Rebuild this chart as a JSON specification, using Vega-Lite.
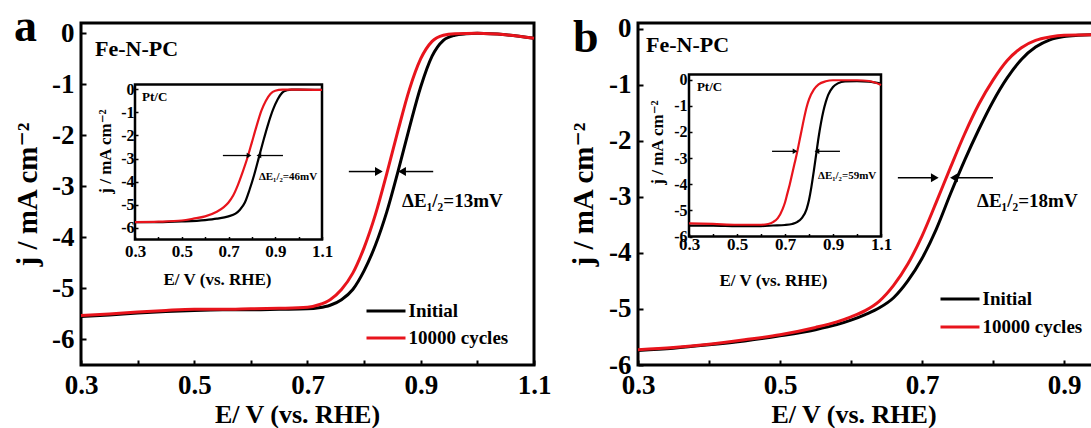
{
  "$schema": "https://vega.github.io/schema/vega-lite/v6.json",
  "padding": {"left": 11, "top": 2, "right": 0, "bottom": 0},
  "background": "white",
  "datasets": {
    "mainA": [
      {"E":0.30,"j":-5.55,"s":"Initial"},{"E":0.35,"j":-5.52,"s":"Initial"},{"E":0.40,"j":-5.48,"s":"Initial"},{"E":0.45,"j":-5.45,"s":"Initial"},{"E":0.50,"j":-5.43,"s":"Initial"},{"E":0.55,"j":-5.42,"s":"Initial"},{"E":0.60,"j":-5.42,"s":"Initial"},{"E":0.65,"j":-5.41,"s":"Initial"},{"E":0.70,"j":-5.40,"s":"Initial"},{"E":0.72,"j":-5.38,"s":"Initial"},{"E":0.74,"j":-5.33,"s":"Initial"},{"E":0.76,"j":-5.22,"s":"Initial"},{"E":0.78,"j":-5.02,"s":"Initial"},{"E":0.80,"j":-4.65,"s":"Initial"},{"E":0.82,"j":-4.15,"s":"Initial"},{"E":0.84,"j":-3.5,"s":"Initial"},{"E":0.86,"j":-2.7,"s":"Initial"},{"E":0.88,"j":-1.85,"s":"Initial"},{"E":0.90,"j":-1.05,"s":"Initial"},{"E":0.92,"j":-0.45,"s":"Initial"},{"E":0.94,"j":-0.14,"s":"Initial"},{"E":0.96,"j":-0.04,"s":"Initial"},{"E":0.98,"j":-0.01,"s":"Initial"},{"E":1.00,"j":0.0,"s":"Initial"},{"E":1.05,"j":-0.03,"s":"Initial"},{"E":1.10,"j":-0.1,"s":"Initial"},
      {"E":0.30,"j":-5.53,"s":"10000 cycles"},{"E":0.35,"j":-5.5,"s":"10000 cycles"},{"E":0.40,"j":-5.46,"s":"10000 cycles"},{"E":0.45,"j":-5.43,"s":"10000 cycles"},{"E":0.50,"j":-5.41,"s":"10000 cycles"},{"E":0.55,"j":-5.41,"s":"10000 cycles"},{"E":0.60,"j":-5.4,"s":"10000 cycles"},{"E":0.65,"j":-5.39,"s":"10000 cycles"},{"E":0.70,"j":-5.37,"s":"10000 cycles"},{"E":0.72,"j":-5.32,"s":"10000 cycles"},{"E":0.74,"j":-5.22,"s":"10000 cycles"},{"E":0.76,"j":-5.02,"s":"10000 cycles"},{"E":0.78,"j":-4.7,"s":"10000 cycles"},{"E":0.80,"j":-4.2,"s":"10000 cycles"},{"E":0.82,"j":-3.55,"s":"10000 cycles"},{"E":0.84,"j":-2.75,"s":"10000 cycles"},{"E":0.86,"j":-1.9,"s":"10000 cycles"},{"E":0.88,"j":-1.1,"s":"10000 cycles"},{"E":0.90,"j":-0.5,"s":"10000 cycles"},{"E":0.92,"j":-0.16,"s":"10000 cycles"},{"E":0.94,"j":-0.04,"s":"10000 cycles"},{"E":0.96,"j":-0.01,"s":"10000 cycles"},{"E":1.00,"j":0.0,"s":"10000 cycles"},{"E":1.05,"j":-0.03,"s":"10000 cycles"},{"E":1.10,"j":-0.1,"s":"10000 cycles"}
    ],
    "insetA": [
      {"E":0.30,"j":-5.75,"s":"Initial"},{"E":0.40,"j":-5.75,"s":"Initial"},{"E":0.50,"j":-5.72,"s":"Initial"},{"E":0.60,"j":-5.66,"s":"Initial"},{"E":0.65,"j":-5.6,"s":"Initial"},{"E":0.70,"j":-5.5,"s":"Initial"},{"E":0.73,"j":-5.38,"s":"Initial"},{"E":0.75,"j":-5.2,"s":"Initial"},{"E":0.77,"j":-4.9,"s":"Initial"},{"E":0.79,"j":-4.35,"s":"Initial"},{"E":0.81,"j":-3.7,"s":"Initial"},{"E":0.83,"j":-2.95,"s":"Initial"},{"E":0.85,"j":-2.2,"s":"Initial"},{"E":0.87,"j":-1.5,"s":"Initial"},{"E":0.89,"j":-0.9,"s":"Initial"},{"E":0.91,"j":-0.45,"s":"Initial"},{"E":0.93,"j":-0.15,"s":"Initial"},{"E":0.95,"j":-0.05,"s":"Initial"},{"E":0.97,"j":-0.02,"s":"Initial"},{"E":1.00,"j":-0.02,"s":"Initial"},{"E":1.10,"j":-0.03,"s":"Initial"},
      {"E":0.30,"j":-5.75,"s":"10000 cycles"},{"E":0.40,"j":-5.73,"s":"10000 cycles"},{"E":0.50,"j":-5.68,"s":"10000 cycles"},{"E":0.55,"j":-5.6,"s":"10000 cycles"},{"E":0.60,"j":-5.5,"s":"10000 cycles"},{"E":0.65,"j":-5.3,"s":"10000 cycles"},{"E":0.68,"j":-5.1,"s":"10000 cycles"},{"E":0.70,"j":-4.9,"s":"10000 cycles"},{"E":0.72,"j":-4.6,"s":"10000 cycles"},{"E":0.74,"j":-4.15,"s":"10000 cycles"},{"E":0.76,"j":-3.6,"s":"10000 cycles"},{"E":0.78,"j":-3.0,"s":"10000 cycles"},{"E":0.80,"j":-2.3,"s":"10000 cycles"},{"E":0.82,"j":-1.6,"s":"10000 cycles"},{"E":0.84,"j":-0.95,"s":"10000 cycles"},{"E":0.86,"j":-0.5,"s":"10000 cycles"},{"E":0.88,"j":-0.2,"s":"10000 cycles"},{"E":0.90,"j":-0.07,"s":"10000 cycles"},{"E":0.93,"j":-0.02,"s":"10000 cycles"},{"E":1.00,"j":-0.02,"s":"10000 cycles"},{"E":1.10,"j":-0.03,"s":"10000 cycles"}
    ],
    "mainB": [
      {"E":0.30,"j":-5.74,"s":"Initial"},{"E":0.35,"j":-5.70,"s":"Initial"},{"E":0.40,"j":-5.64,"s":"Initial"},{"E":0.45,"j":-5.57,"s":"Initial"},{"E":0.50,"j":-5.48,"s":"Initial"},{"E":0.55,"j":-5.37,"s":"Initial"},{"E":0.58,"j":-5.28,"s":"Initial"},{"E":0.60,"j":-5.2,"s":"Initial"},{"E":0.62,"j":-5.1,"s":"Initial"},{"E":0.64,"j":-4.98,"s":"Initial"},{"E":0.66,"j":-4.8,"s":"Initial"},{"E":0.68,"j":-4.5,"s":"Initial"},{"E":0.70,"j":-4.1,"s":"Initial"},{"E":0.72,"j":-3.58,"s":"Initial"},{"E":0.74,"j":-2.95,"s":"Initial"},{"E":0.76,"j":-2.35,"s":"Initial"},{"E":0.78,"j":-1.8,"s":"Initial"},{"E":0.80,"j":-1.3,"s":"Initial"},{"E":0.82,"j":-0.88,"s":"Initial"},{"E":0.84,"j":-0.55,"s":"Initial"},{"E":0.86,"j":-0.33,"s":"Initial"},{"E":0.88,"j":-0.2,"s":"Initial"},{"E":0.90,"j":-0.14,"s":"Initial"},{"E":0.92,"j":-0.12,"s":"Initial"},{"E":0.95,"j":-0.11,"s":"Initial"},{"E":1.00,"j":-0.11,"s":"Initial"},
      {"E":0.30,"j":-5.73,"s":"10000 cycles"},{"E":0.35,"j":-5.69,"s":"10000 cycles"},{"E":0.40,"j":-5.63,"s":"10000 cycles"},{"E":0.45,"j":-5.55,"s":"10000 cycles"},{"E":0.50,"j":-5.46,"s":"10000 cycles"},{"E":0.55,"j":-5.33,"s":"10000 cycles"},{"E":0.58,"j":-5.23,"s":"10000 cycles"},{"E":0.60,"j":-5.14,"s":"10000 cycles"},{"E":0.62,"j":-5.03,"s":"10000 cycles"},{"E":0.64,"j":-4.86,"s":"10000 cycles"},{"E":0.66,"j":-4.58,"s":"10000 cycles"},{"E":0.68,"j":-4.2,"s":"10000 cycles"},{"E":0.70,"j":-3.7,"s":"10000 cycles"},{"E":0.72,"j":-3.1,"s":"10000 cycles"},{"E":0.74,"j":-2.48,"s":"10000 cycles"},{"E":0.76,"j":-1.88,"s":"10000 cycles"},{"E":0.78,"j":-1.35,"s":"10000 cycles"},{"E":0.80,"j":-0.92,"s":"10000 cycles"},{"E":0.82,"j":-0.57,"s":"10000 cycles"},{"E":0.84,"j":-0.34,"s":"10000 cycles"},{"E":0.86,"j":-0.21,"s":"10000 cycles"},{"E":0.88,"j":-0.15,"s":"10000 cycles"},{"E":0.90,"j":-0.12,"s":"10000 cycles"},{"E":0.95,"j":-0.11,"s":"10000 cycles"},{"E":1.00,"j":-0.11,"s":"10000 cycles"}
    ],
    "insetB": [
      {"E":0.30,"j":-5.58,"s":"Initial"},{"E":0.40,"j":-5.58,"s":"Initial"},{"E":0.50,"j":-5.6,"s":"Initial"},{"E":0.60,"j":-5.6,"s":"Initial"},{"E":0.65,"j":-5.58,"s":"Initial"},{"E":0.70,"j":-5.56,"s":"Initial"},{"E":0.73,"j":-5.52,"s":"Initial"},{"E":0.75,"j":-5.45,"s":"Initial"},{"E":0.77,"j":-5.3,"s":"Initial"},{"E":0.79,"j":-4.95,"s":"Initial"},{"E":0.80,"j":-4.6,"s":"Initial"},{"E":0.81,"j":-4.1,"s":"Initial"},{"E":0.82,"j":-3.5,"s":"Initial"},{"E":0.83,"j":-2.85,"s":"Initial"},{"E":0.84,"j":-2.2,"s":"Initial"},{"E":0.85,"j":-1.65,"s":"Initial"},{"E":0.86,"j":-1.2,"s":"Initial"},{"E":0.87,"j":-0.85,"s":"Initial"},{"E":0.88,"j":-0.58,"s":"Initial"},{"E":0.90,"j":-0.28,"s":"Initial"},{"E":0.92,"j":-0.14,"s":"Initial"},{"E":0.95,"j":-0.06,"s":"Initial"},{"E":1.00,"j":-0.05,"s":"Initial"},{"E":1.05,"j":-0.07,"s":"Initial"},{"E":1.10,"j":-0.15,"s":"Initial"},
      {"E":0.30,"j":-5.5,"s":"10000 cycles"},{"E":0.40,"j":-5.52,"s":"10000 cycles"},{"E":0.50,"j":-5.55,"s":"10000 cycles"},{"E":0.60,"j":-5.55,"s":"10000 cycles"},{"E":0.63,"j":-5.52,"s":"10000 cycles"},{"E":0.65,"j":-5.45,"s":"10000 cycles"},{"E":0.67,"j":-5.3,"s":"10000 cycles"},{"E":0.69,"j":-4.95,"s":"10000 cycles"},{"E":0.70,"j":-4.7,"s":"10000 cycles"},{"E":0.71,"j":-4.35,"s":"10000 cycles"},{"E":0.72,"j":-4.0,"s":"10000 cycles"},{"E":0.73,"j":-3.6,"s":"10000 cycles"},{"E":0.74,"j":-3.2,"s":"10000 cycles"},{"E":0.75,"j":-2.8,"s":"10000 cycles"},{"E":0.76,"j":-2.35,"s":"10000 cycles"},{"E":0.77,"j":-1.9,"s":"10000 cycles"},{"E":0.78,"j":-1.45,"s":"10000 cycles"},{"E":0.79,"j":-1.05,"s":"10000 cycles"},{"E":0.80,"j":-0.75,"s":"10000 cycles"},{"E":0.82,"j":-0.38,"s":"10000 cycles"},{"E":0.84,"j":-0.18,"s":"10000 cycles"},{"E":0.87,"j":-0.06,"s":"10000 cycles"},{"E":0.90,"j":-0.02,"s":"10000 cycles"},{"E":1.00,"j":-0.02,"s":"10000 cycles"},{"E":1.05,"j":-0.05,"s":"10000 cycles"},{"E":1.10,"j":-0.2,"s":"10000 cycles"}
    ],
    "arrA": [{"x1":0.773,"x2":0.826,"y":-2.71,"d":"r"},{"x1":0.922,"x2":0.867,"y":-2.71,"d":"l"}],
    "arrAi": [{"x1":0.676,"x2":0.788,"y":-2.87,"d":"r"},{"x1":0.933,"x2":0.830,"y":-2.87,"d":"l"}],
    "arrB": [{"x1":0.666,"x2":0.718,"y":-2.66,"d":"r"},{"x1":0.800,"x2":0.745,"y":-2.66,"d":"l"}],
    "arrBi": [{"x1":0.646,"x2":0.742,"y":-2.74,"d":"r"},{"x1":0.929,"x2":0.833,"y":-2.74,"d":"l"}]
  },
  "hconcat": [
    {
      "width": 453, "height": 342,
      "layer": [
        {"layer": [
          {"data": {"name": "mainA"},
           "mark": {"type": "line", "strokeWidth": 3, "interpolate": "monotone"},
           "encoding": {
             "x": {"field": "E", "type": "quantitative", "scale": {"domain": [0.3, 1.1], "nice": false, "zero": false},
                   "axis": {"values": [0.3,0.4,0.5,0.6,0.7,0.8,0.9,1.0,1.1], "labelExpr": "indexof([0.3,0.5,0.7,0.9,1.1], datum.value) >= 0 ? format(datum.value, '.1f') : ''",
                            "domain": false, "tickSize": -5, "tickWidth": 2, "labelPadding": 12, "labelFontSize": 27,
                            "title": "E/ V (vs. RHE)", "titleFontSize": 26, "titleX": 216, "titleY": 49, "titleBaseline": "middle", "titleAlign": "center"}},
             "y": {"field": "j", "type": "quantitative", "scale": {"domain": [-6.5, 0.2], "nice": false, "zero": false},
                   "axis": {"values": [-6,-5.5,-5,-4.5,-4,-3.5,-3,-2.5,-2,-1.5,-1,-0.5,0], "labelExpr": "datum.value % 1 == 0 ? '' + datum.value : ''",
                            "domain": false, "tickSize": -5, "tickWidth": 2, "labelPadding": 12, "labelFontSize": 27,
                            "title": "j / mA cm⁻²", "titleFontSize": 29, "titleX": -54, "titleY": 171, "titleAngle": -90, "titleBaseline": "middle", "titleAlign": "center"}},
             "color": {"field": "s", "type": "nominal", "scale": {"domain": ["Initial", "10000 cycles"], "range": ["#000000", "#e8141c"]},
                       "legend": {"orient": "none", "legendX": 288.5, "legendY": 271.5, "title": null, "symbolType": "M-1.3,0H1.3", "symbolSize": 900, "symbolStrokeWidth": 3, "labelFont": "Liberation Serif, Times New Roman, DejaVu Serif, serif", "labelFontSize": 19, "labelFontWeight": "bold", "labelColor": "#000", "labelOffset": 6, "rowPadding": 0, "padding": 0}}
           }},
          {"data": {"name": "arrA"}, "mark": {"type": "rule", "strokeWidth": 1.5, "color": "#000"},
           "encoding": {"x": {"field": "x1", "type": "quantitative"}, "x2": {"field": "x2"}, "y": {"field": "y", "type": "quantitative"}}},
          {"data": {"name": "arrA"}, "transform": [{"filter": "datum.d == 'r'"}], "mark": {"type": "point", "shape": "triangle-right", "filled": true, "size": 80, "color": "#000", "opacity": 1},
           "encoding": {"x": {"field": "x2", "type": "quantitative"}, "y": {"field": "y", "type": "quantitative"}}},
          {"data": {"name": "arrA"}, "transform": [{"filter": "datum.d == 'l'"}], "mark": {"type": "point", "shape": "triangle-left", "filled": true, "size": 80, "color": "#000", "opacity": 1},
           "encoding": {"x": {"field": "x2", "type": "quantitative"}, "y": {"field": "y", "type": "quantitative"}}},
          {"data": {"values": [{}]}, "mark": {"type": "text", "text": "a", "fontSize": 46, "align": "left", "baseline": "alphabetic"},
           "encoding": {"x": {"datum": 0.1817, "type": "quantitative"}, "y": {"datum": -0.143, "type": "quantitative"}}},
          {"data": {"values": [{}]}, "mark": {"type": "text", "text": "Fe-N-PC", "fontSize": 22, "align": "left", "baseline": "middle"},
           "encoding": {"x": {"datum": 0.3247, "type": "quantitative"}, "y": {"datum": -0.30, "type": "quantitative"}}},
          {"data": {"values": [{}]}, "mark": {"type": "text", "text": "ΔE₁/₂=13mV", "fontSize": 19, "align": "left", "baseline": "middle"},
           "encoding": {"x": {"datum": 0.867, "type": "quantitative"}, "y": {"datum": -3.28, "type": "quantitative"}}}
        ]},
        {"layer": [
          {"data": {"values": [{}]}, "mark": {"type": "rect", "fill": "white", "stroke": "#000", "strokeWidth": 2.5},
           "encoding": {
             "x": {"datum": 0.3, "type": "quantitative", "scale": {"domain": [0.3, 1.1], "range": [54, 241], "nice": false, "zero": false},
                   "axis": {"orient": "bottom", "offset": -125.5, "zindex": 1, "values": [0.3,0.4,0.5,0.6,0.7,0.8,0.9,1.0,1.1], "labelExpr": "indexof([0.3,0.5,0.7,0.9,1.1], datum.value) >= 0 ? format(datum.value, '.1f') : ''",
                            "domain": false, "tickSize": -3, "tickWidth": 1.5, "labelPadding": 7, "labelFontSize": 17,
                            "title": "E/ V (vs. RHE)", "titleFontSize": 17, "titleX": 136, "titleY": 40, "titleBaseline": "middle", "titleAlign": "center"}},
             "x2": {"datum": 1.1},
             "y": {"datum": -6.5, "type": "quantitative", "scale": {"domain": [-6.5, 0.2], "range": [216.5, 61.5], "nice": false, "zero": false},
                   "axis": {"orient": "left", "offset": -54, "zindex": 1, "values": [-6,-5,-4,-3,-2,-1,0], "labelExpr": "'' + datum.value",
                            "domain": false, "tickSize": -3, "tickWidth": 1.5, "labelPadding": 4, "labelFontSize": 16,
                            "title": "j / mA cm⁻²", "titleFontSize": 17, "titleX": -30, "titleY": 128, "titleAngle": -90, "titleBaseline": "middle", "titleAlign": "center"}},
             "y2": {"datum": 0.2}
           }},
          {"data": {"name": "insetA"}, "mark": {"type": "line", "strokeWidth": 2.2, "interpolate": "monotone"},
           "encoding": {"x": {"field": "E", "type": "quantitative"}, "y": {"field": "j", "type": "quantitative"}, "color": {"field": "s", "type": "nominal"}}},
          {"data": {"name": "arrAi"}, "mark": {"type": "rule", "strokeWidth": 1.3, "color": "#000"},
           "encoding": {"x": {"field": "x1", "type": "quantitative"}, "x2": {"field": "x2"}, "y": {"field": "y", "type": "quantitative"}}},
          {"data": {"name": "arrAi"}, "transform": [{"filter": "datum.d == 'r'"}], "mark": {"type": "point", "shape": "triangle-right", "filled": true, "size": 30, "color": "#000", "opacity": 1},
           "encoding": {"x": {"field": "x2", "type": "quantitative"}, "y": {"field": "y", "type": "quantitative"}}},
          {"data": {"name": "arrAi"}, "transform": [{"filter": "datum.d == 'l'"}], "mark": {"type": "point", "shape": "triangle-left", "filled": true, "size": 30, "color": "#000", "opacity": 1},
           "encoding": {"x": {"field": "x2", "type": "quantitative"}, "y": {"field": "y", "type": "quantitative"}}},
          {"data": {"values": [{}]}, "mark": {"type": "text", "text": "Pt/C", "fontSize": 13, "align": "left", "baseline": "middle"},
           "encoding": {"x": {"datum": 0.33, "type": "quantitative"}, "y": {"datum": -0.32, "type": "quantitative"}}},
          {"data": {"values": [{}]}, "mark": {"type": "text", "text": "ΔE₁/₂=46mV", "fontSize": 11, "align": "left", "baseline": "middle"},
           "encoding": {"x": {"datum": 0.830, "type": "quantitative"}, "y": {"datum": -3.78, "type": "quantitative"}}}
        ]}
      ],
      "resolve": {"scale": {"x": "independent", "y": "independent"}, "axis": {"x": "independent", "y": "independent"}}
    },
    {
      "width": 497, "height": 342,
      "layer": [
        {"layer": [
          {"data": {"name": "mainB"},
           "mark": {"type": "line", "strokeWidth": 3, "interpolate": "monotone"},
           "encoding": {
             "x": {"field": "E", "type": "quantitative", "scale": {"domain": [0.3, 1.0], "nice": false, "zero": false},
                   "axis": {"values": [0.3,0.4,0.5,0.6,0.7,0.8,0.9,1.0], "labelExpr": "indexof([0.3,0.5,0.7,0.9], datum.value) >= 0 ? format(datum.value, '.1f') : ''",
                            "domain": false, "tickSize": -5, "tickWidth": 2, "labelPadding": 12, "labelFontSize": 27,
                            "title": "E/ V (vs. RHE)", "titleFontSize": 26, "titleX": 215.5, "titleY": 49, "titleBaseline": "middle", "titleAlign": "center"}},
             "y": {"field": "j", "type": "quantitative", "scale": {"domain": [-6, 0.1], "nice": false, "zero": false},
                   "axis": {"values": [-6,-5.5,-5,-4.5,-4,-3.5,-3,-2.5,-2,-1.5,-1,-0.5,0], "labelExpr": "datum.value % 1 == 0 ? '' + datum.value : ''",
                            "domain": false, "tickSize": -5, "tickWidth": 2, "labelPadding": 12, "labelFontSize": 27,
                            "title": "j / mA cm⁻²", "titleFontSize": 29, "titleX": -55, "titleY": 171, "titleAngle": -90, "titleBaseline": "middle", "titleAlign": "center"}},
             "color": {"field": "s", "type": "nominal", "scale": {"domain": ["Initial", "10000 cycles"], "range": ["#000000", "#e8141c"]},
                       "legend": {"orient": "none", "legendX": 305.5, "legendY": 259.5, "title": null, "symbolType": "M-1.3,0H1.3", "symbolSize": 900, "symbolStrokeWidth": 3, "labelFont": "Liberation Serif, Times New Roman, DejaVu Serif, serif", "labelFontSize": 19, "labelFontWeight": "bold", "labelColor": "#000", "labelOffset": 6, "rowPadding": 1, "padding": 0}}
           }},
          {"data": {"name": "arrB"}, "mark": {"type": "rule", "strokeWidth": 1.5, "color": "#000"},
           "encoding": {"x": {"field": "x1", "type": "quantitative"}, "x2": {"field": "x2"}, "y": {"field": "y", "type": "quantitative"}}},
          {"data": {"name": "arrB"}, "transform": [{"filter": "datum.d == 'r'"}], "mark": {"type": "point", "shape": "triangle-right", "filled": true, "size": 80, "color": "#000", "opacity": 1},
           "encoding": {"x": {"field": "x2", "type": "quantitative"}, "y": {"field": "y", "type": "quantitative"}}},
          {"data": {"name": "arrB"}, "transform": [{"filter": "datum.d == 'l'"}], "mark": {"type": "point", "shape": "triangle-left", "filled": true, "size": 80, "color": "#000", "opacity": 1},
           "encoding": {"x": {"field": "x2", "type": "quantitative"}, "y": {"field": "y", "type": "quantitative"}}},
          {"data": {"values": [{}]}, "mark": {"type": "text", "text": "b", "fontSize": 46, "align": "left", "baseline": "alphabetic"},
           "encoding": {"x": {"datum": 0.2085, "type": "quantitative"}, "y": {"datum": -0.426, "type": "quantitative"}}},
          {"data": {"values": [{}]}, "mark": {"type": "text", "text": "Fe-N-PC", "fontSize": 22, "align": "left", "baseline": "middle"},
           "encoding": {"x": {"datum": 0.3113, "type": "quantitative"}, "y": {"datum": -0.30, "type": "quantitative"}}},
          {"data": {"values": [{}]}, "mark": {"type": "text", "text": "ΔE₁/₂=18mV", "fontSize": 19, "align": "left", "baseline": "middle"},
           "encoding": {"x": {"datum": 0.7775, "type": "quantitative"}, "y": {"datum": -3.07, "type": "quantitative"}}}
        ]},
        {"layer": [
          {"data": {"values": [{}]}, "mark": {"type": "rect", "fill": "white", "stroke": "#000", "strokeWidth": 2.5},
           "encoding": {
             "x": {"datum": 0.3, "type": "quantitative", "scale": {"domain": [0.3, 1.1], "range": [51, 243], "nice": false, "zero": false},
                   "axis": {"orient": "bottom", "offset": -128.5, "zindex": 1, "values": [0.3,0.4,0.5,0.6,0.7,0.8,0.9,1.0,1.1], "labelExpr": "indexof([0.3,0.5,0.7,0.9,1.1], datum.value) >= 0 ? format(datum.value, '.1f') : ''",
                            "domain": false, "tickSize": -3, "tickWidth": 1.5, "labelPadding": 3, "labelFontSize": 17,
                            "title": "E/ V (vs. RHE)", "titleFontSize": 17, "titleX": 135, "titleY": 43.7, "titleBaseline": "middle", "titleAlign": "center"}},
             "x2": {"datum": 1.1},
             "y": {"datum": -6, "type": "quantitative", "scale": {"domain": [-6, 0.2], "range": [213.5, 51.5], "nice": false, "zero": false},
                   "axis": {"orient": "left", "offset": -51, "zindex": 1, "values": [-6,-5,-4,-3,-2,-1,0], "labelExpr": "'' + datum.value",
                            "domain": false, "tickSize": -3, "tickWidth": 1.5, "labelPadding": 5, "labelFontSize": 16,
                            "title": "j / mA cm⁻²", "titleFontSize": 17, "titleX": -32, "titleY": 119, "titleAngle": -90, "titleBaseline": "middle", "titleAlign": "center"}},
             "y2": {"datum": 0.2}
           }},
          {"data": {"name": "insetB"}, "mark": {"type": "line", "strokeWidth": 2.2, "interpolate": "monotone"},
           "encoding": {"x": {"field": "E", "type": "quantitative"}, "y": {"field": "j", "type": "quantitative"}, "color": {"field": "s", "type": "nominal"}}},
          {"data": {"name": "arrBi"}, "mark": {"type": "rule", "strokeWidth": 1.3, "color": "#000"},
           "encoding": {"x": {"field": "x1", "type": "quantitative"}, "x2": {"field": "x2"}, "y": {"field": "y", "type": "quantitative"}}},
          {"data": {"name": "arrBi"}, "transform": [{"filter": "datum.d == 'r'"}], "mark": {"type": "point", "shape": "triangle-right", "filled": true, "size": 30, "color": "#000", "opacity": 1},
           "encoding": {"x": {"field": "x2", "type": "quantitative"}, "y": {"field": "y", "type": "quantitative"}}},
          {"data": {"name": "arrBi"}, "transform": [{"filter": "datum.d == 'l'"}], "mark": {"type": "point", "shape": "triangle-left", "filled": true, "size": 30, "color": "#000", "opacity": 1},
           "encoding": {"x": {"field": "x2", "type": "quantitative"}, "y": {"field": "y", "type": "quantitative"}}},
          {"data": {"values": [{}]}, "mark": {"type": "text", "text": "Pt/C", "fontSize": 13, "align": "left", "baseline": "middle"},
           "encoding": {"x": {"datum": 0.333, "type": "quantitative"}, "y": {"datum": -0.26, "type": "quantitative"}}},
          {"data": {"values": [{}]}, "mark": {"type": "text", "text": "ΔE₁/₂=59mV", "fontSize": 11, "align": "left", "baseline": "middle"},
           "encoding": {"x": {"datum": 0.8375, "type": "quantitative"}, "y": {"datum": -3.69, "type": "quantitative"}}}
        ]}
      ],
      "resolve": {"scale": {"x": "independent", "y": "independent"}, "axis": {"x": "independent", "y": "independent"}}
    }
  ],
  "spacing": 104,
  "bounds": "flush",
  "resolve": {"scale": {"color": "independent"}, "legend": {"color": "independent"}},
  "config": {
    "view": {"stroke": "#000", "strokeWidth": 3},
    "axis": {"grid": false, "labelFont": "Liberation Serif, Times New Roman, DejaVu Serif, serif", "labelFontWeight": "bold", "labelColor": "#000", "titleFont": "Liberation Serif, Times New Roman, DejaVu Serif, serif", "titleFontWeight": "bold", "titleColor": "#000", "tickColor": "#000", "domainColor": "#000", "labelFlush": false, "labelOverlap": false, "labelBound": false},
    "text": {"font": "Liberation Serif, Times New Roman, DejaVu Serif, serif", "fontWeight": "bold", "color": "#000"}
  }
}
